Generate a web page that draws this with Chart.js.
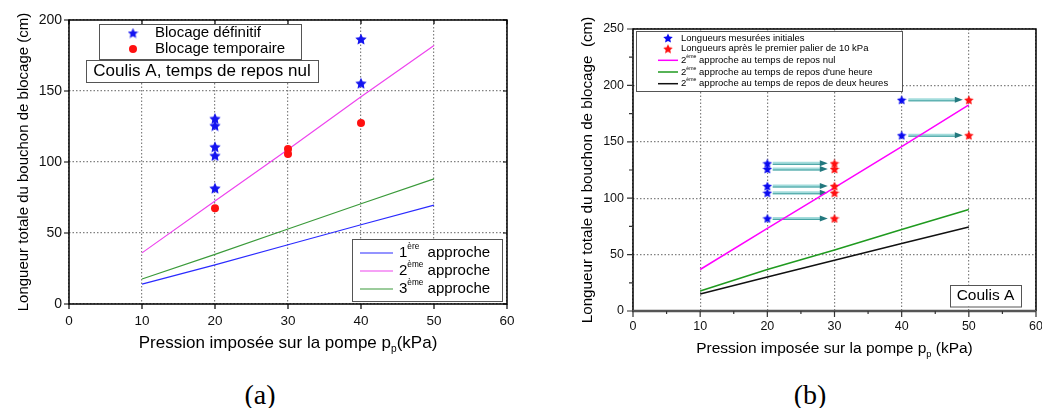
<!DOCTYPE html>
<html>
<head>
<meta charset="utf-8">
<script src="https://cdn.jsdelivr.net/npm/chart.js@4.4.1/dist/chart.umd.min.js"></script>
<style>
    html, body { margin: 0; padding: 0; background: #fff; }
    body { width: 1042px; height: 408px; position: relative; overflow: hidden; }
    #chartA { position: absolute; left: 0; top: 0; }
    #chartB { position: absolute; left: 530px; top: 0; }
    .caption {
        position: absolute; top: 381px; width: 80px; text-align: center;
        font-family: 'Liberation Serif', 'DejaVu Serif', serif; font-size: 28px; line-height: 28px; color: #000;
    }
</style>
</head>
<body>
<canvas id="chartA" width="530" height="360"></canvas>
<canvas id="chartB" width="512" height="360"></canvas>
<div class="caption" style="left:220px">(a)</div>
<div class="caption" style="left:770px">(b)</div>
<script>
const FONT = "'Liberation Sans', Arial, sans-serif";

// ---- (a) Coulis A, temps de repos nul ----
const pressionA = [10, 20, 30, 40, 50];
const approche1A = [14, 27.5, 41.7, 55.8, 69.6];
const approche2A = [36, 72.5, 108.8, 146, 182];
const approche3A = [17.6, 34.9, 52.8, 70.6, 88.1];
const definitifX = [20, 20, 20, 20, 20, 40, 40];
const definitifY = [130.6, 125.7, 110.7, 104.6, 81.6, 186.6, 155.5];
const temporaireX = [20, 30, 30, 40];
const temporaireY = [67.5, 109.1, 105.7, 127.5];
const ticksXA = [0, 10, 20, 30, 40, 50, 60];
const ticksYA = [0, 50, 100, 150, 200];

// ---- (b) Coulis A ----
const pressionB = [10, 20, 30, 40, 50];
const reposNul = [36.8, 73.2, 109.3, 145.7, 182.7];
const reposUneHeure = [17.8, 36.8, 54, 72.3, 90];
const reposDeuxHeures = [15.1, 30.2, 45, 59.9, 74.4];
const initialesX = [20, 20, 20, 20, 20, 40, 40];
const initialesY = [130.9, 125.9, 110.8, 104.8, 82.1, 187.2, 155.8];
const apresPalierX = [30, 30, 30, 30, 30, 50, 50];
const apresPalierY = [130.9, 125.9, 110.8, 104.8, 82.1, 187.2, 155.8];
const flecheDebutX = [20.8, 20.8, 20.8, 20.8, 20.8, 41, 41];
const flecheFinX = [29, 29, 29, 29, 29, 49.1, 49.1];
const ticksXB = [0, 10, 20, 30, 40, 50, 60];
const ticksYB = [0, 50, 100, 150, 200, 250];
const minorXB = [5, 15, 25, 35, 45, 55];
const minorYB = [25, 75, 125, 175, 225];

const pts = (xs, ys) => xs.map((x, i) => ({ x: x, y: ys[i] }));

function starImage(size, color) {
    const c = document.createElement('canvas');
    c.width = c.height = size;
    const g = c.getContext('2d');
    const R = size / 2, r = R * 0.48, cx = size / 2, cy = size / 2 + R * 0.1;
    g.beginPath();
    for (let i = 0; i < 10; i++) {
        const rad = i % 2 ? r : R;
        const a = -Math.PI / 2 + i * Math.PI / 5;
        g.lineTo(cx + rad * Math.cos(a), cy + rad * Math.sin(a));
    }
    g.closePath();
    g.fillStyle = color;
    g.fill();
    return c;
}

function drawXTitle(chart, size, gap, dy) {
    const ctx = chart.ctx, ca = chart.chartArea;
    const main = 'Pression imposée sur la pompe p';
    const tail = gap + '(kPa)';
    const sub = size * 0.6;
    ctx.save();
    ctx.fillStyle = '#000';
    ctx.textBaseline = 'middle';
    ctx.textAlign = 'left';
    ctx.font = size + 'px ' + FONT;
    const w1 = ctx.measureText(main).width, w3 = ctx.measureText(tail).width;
    ctx.font = sub + 'px ' + FONT;
    const w2 = ctx.measureText('p').width;
    const x = (ca.left + ca.right) / 2 - (w1 + w2 + w3) / 2;
    const y = ca.bottom + dy;
    ctx.font = size + 'px ' + FONT;
    ctx.fillText(main, x, y);
    ctx.font = sub + 'px ' + FONT;
    ctx.fillText('p', x + w1, y + size * 0.35);
    ctx.font = size + 'px ' + FONT;
    ctx.fillText(tail, x + w1 + w2, y);
    ctx.restore();
}

// text like "2ème approche ..." with a superscript
function drawSup(ctx, x, y, size, base, sup, rest) {
    ctx.font = size + 'px ' + FONT;
    ctx.fillText(base, x, y);
    let w = ctx.measureText(base).width;
    ctx.font = (size * 0.55) + 'px ' + FONT;
    ctx.fillText(sup, x + w, y - size * 0.4);
    w += ctx.measureText(sup).width;
    ctx.font = size + 'px ' + FONT;
    ctx.fillText(rest, x + w, y);
}

function box(ctx, x, y, w, h, color) {
    ctx.fillStyle = '#fff';
    ctx.fillRect(x, y, w, h);
    ctx.strokeStyle = color;
    ctx.lineWidth = 1;
    ctx.strokeRect(x + 0.5, y + 0.5, w, h);
}

function axisX(ticks, fontSize, pad, paddingX) {
    return {
        type: 'linear', min: 0, max: 60,
        afterBuildTicks: s => { s.ticks = ticks.map(v => ({ value: v })); },
        afterFit: s => { s.height = paddingX; s.paddingLeft = 0; s.paddingRight = 0; },
        ticks: { color: '#111', padding: pad, font: { family: FONT, size: fontSize } },
        grid: { color: '#808080', lineWidth: 1.2, drawTicks: false },
        border: { display: false, dash: [1.5, 2] }
    };
}

function axisY(ticks, max, fontSize, pad, width, titleSize, titlePad, text) {
    return {
        type: 'linear', min: 0, max: max,
        afterBuildTicks: s => { s.ticks = ticks.map(v => ({ value: v })); },
        afterFit: s => { s.width = width; s.paddingTop = 0; s.paddingBottom = 0; },
        ticks: { color: '#111', padding: pad, font: { family: FONT, size: fontSize } },
        grid: { color: '#808080', lineWidth: 1.2, drawTicks: false },
        border: { display: false, dash: [1.5, 2] },
        title: {
            display: true, text: text, color: '#000',
            font: { family: FONT, size: titleSize }, padding: { top: titlePad, bottom: 0 }
        }
    };
}

// ---------- chart (a) ----------
const starA = starImage(12, '#1414f0');
const starLegA = starImage(11, '#1414f0');

const plugA = {
    id: 'decorA',
    afterDraw(chart) {
        const ctx = chart.ctx, ca = chart.chartArea;
        const xs = chart.scales.x, ys = chart.scales.y;
        ctx.save();
        // frame and ticks
        ctx.strokeStyle = '#000';
        ctx.lineWidth = 1.5;
        ctx.strokeRect(ca.left, ca.top, ca.right - ca.left, ca.bottom - ca.top);
        ctx.lineWidth = 1.2;
        ctx.beginPath();
        ticksXA.forEach(v => {
            const px = xs.getPixelForValue(v);
            ctx.moveTo(px, ca.bottom); ctx.lineTo(px, ca.bottom + 5);
            ctx.moveTo(px, ca.top); ctx.lineTo(px, ca.top + 4);
        });
        ticksYA.forEach(v => {
            const py = ys.getPixelForValue(v);
            ctx.moveTo(ca.left - 5, py); ctx.lineTo(ca.left, py);
            ctx.moveTo(ca.right, py); ctx.lineTo(ca.right - 4, py);
        });
        ctx.stroke();

        // top legend
        ctx.textBaseline = 'middle';
        ctx.textAlign = 'left';
        box(ctx, ca.left + 30, ca.top + 4, 202, 35, '#555');
        ctx.drawImage(starLegA, ca.left + 64 - 5.5, ca.top + 13 - 5.5);
        ctx.fillStyle = '#ff1010';
        ctx.beginPath();
        ctx.arc(ca.left + 64, ca.top + 29, 4, 0, Math.PI * 2);
        ctx.fill();
        ctx.fillStyle = '#000';
        ctx.font = '15px ' + FONT;
        ctx.fillText('Blocage définitif', ca.left + 86, ca.top + 13);
        ctx.fillText('Blocage temporaire', ca.left + 86, ca.top + 29);

        // annotation
        box(ctx, ca.left + 17, ca.top + 40, 232, 22, '#555');
        ctx.fillStyle = '#000';
        ctx.font = '17px ' + FONT;
        ctx.textAlign = 'center';
        ctx.fillText('Coulis A, temps de repos nul', ca.left + 133, ca.top + 51.5);

        // lower legend
        ctx.textAlign = 'left';
        const lx = ca.right - 155, ly = ca.bottom - 65;
        box(ctx, lx, ly, 150, 62, '#555');
        const rows = [
            { c: '#2a2aff', n: '1', s: 'ère', t: '  approche' },
            { c: '#ee44ee', n: '2', s: 'ème', t: ' approche' },
            { c: '#3a9a3a', n: '3', s: 'ème', t: ' approche' }
        ];
        rows.forEach((r, i) => {
            const y = ly + 14 + i * 18;
            ctx.strokeStyle = r.c;
            ctx.lineWidth = 1.2;
            ctx.beginPath();
            ctx.moveTo(lx + 8, y); ctx.lineTo(lx + 41, y);
            ctx.stroke();
            ctx.fillStyle = '#000';
            drawSup(ctx, lx + 47, y, 15, r.n, r.s, r.t);
        });
        ctx.restore();
        drawXTitle(chart, 17, '', 39);
    }
};

new Chart(document.getElementById('chartA'), {
    type: 'scatter',
    data: {
        datasets: [
            { label: 'Blocage définitif', data: pts(definitifX, definitifY), pointStyle: starA, pointRadius: 5, showLine: false },
            { label: 'Blocage temporaire', data: pts(temporaireX, temporaireY), pointStyle: 'circle', pointRadius: 4,
              backgroundColor: '#ff1010', borderColor: '#ff1010', borderWidth: 0, showLine: false },
            { label: '1ère approche', data: pts(pressionA, approche1A), showLine: true, borderColor: '#2a2aff', borderWidth: 1.2, pointRadius: 0 },
            { label: '2ème approche', data: pts(pressionA, approche2A), showLine: true, borderColor: '#ee44ee', borderWidth: 1.2, pointRadius: 0 },
            { label: '3ème approche', data: pts(pressionA, approche3A), showLine: true, borderColor: '#3a9a3a', borderWidth: 1.2, pointRadius: 0 }
        ]
    },
    options: {
        responsive: false,
        animation: false,
        layout: { padding: { top: 20, right: 23, left: 0, bottom: 0 } },
        plugins: { legend: { display: false }, tooltip: { enabled: false } },
        scales: {
            x: axisX(ticksXA, 13.5, 9, 56),
            y: axisY(ticksYA, 200, 14, 7, 69, 15, 15, 'Longueur totale du bouchon de blocage (cm)')
        }
    },
    plugins: [plugA]
});

// ---------- chart (b) ----------
const starBlue = starImage(10, '#0a0af0');
const starRed = starImage(10, '#ff1010');

const plugB = {
    id: 'decorB',
    beforeDatasetsDraw(chart) {
        // arrows from initial to post-step lengths
        const ctx = chart.ctx;
        const xs = chart.scales.x, ys = chart.scales.y;
        ctx.save();
        initialesY.forEach((v, i) => {
            const x1 = xs.getPixelForValue(flecheDebutX[i]);
            const x2 = xs.getPixelForValue(flecheFinX[i]);
            const y = ys.getPixelForValue(v);
            ctx.strokeStyle = '#a3dcdc';
            ctx.lineWidth = 3;
            ctx.beginPath();
            ctx.moveTo(x1, y); ctx.lineTo(x2 - 6, y);
            ctx.stroke();
            ctx.strokeStyle = '#3f9e9e';
            ctx.lineWidth = 1;
            ctx.beginPath();
            ctx.moveTo(x1, y + 1); ctx.lineTo(x2 - 6, y + 1);
            ctx.stroke();
            ctx.fillStyle = '#23787e';
            ctx.beginPath();
            ctx.moveTo(x2 - 8, y - 3); ctx.lineTo(x2, y); ctx.lineTo(x2 - 8, y + 3);
            ctx.closePath();
            ctx.fill();
        });
        ctx.restore();
    },
    afterDraw(chart) {
        const ctx = chart.ctx, ca = chart.chartArea;
        const xs = chart.scales.x, ys = chart.scales.y;
        ctx.save();
        // frame
        ctx.strokeStyle = '#000';
        ctx.lineWidth = 1.5;
        ctx.beginPath();
        ctx.moveTo(ca.left, ca.bottom); ctx.lineTo(ca.left, ca.top);
        ctx.lineTo(ca.right, ca.top); ctx.lineTo(ca.right, ca.bottom);
        ctx.stroke();
        ctx.strokeStyle = '#555';
        ctx.lineWidth = 2.5;
        ctx.beginPath();
        ctx.moveTo(ca.left - 1, ca.bottom); ctx.lineTo(ca.right, ca.bottom);
        ctx.stroke();
        ctx.strokeStyle = '#333';
        ctx.lineWidth = 1.2;
        ctx.beginPath();
        ticksXB.forEach(v => {
            const px = xs.getPixelForValue(v);
            ctx.moveTo(px, ca.bottom); ctx.lineTo(px, ca.bottom + 6);
        });
        minorXB.forEach(v => {
            const px = xs.getPixelForValue(v);
            ctx.moveTo(px, ca.bottom); ctx.lineTo(px, ca.bottom + 3);
        });
        ticksYB.forEach(v => {
            const py = ys.getPixelForValue(v);
            ctx.moveTo(ca.left - 6, py); ctx.lineTo(ca.left, py);
        });
        minorYB.forEach(v => {
            const py = ys.getPixelForValue(v);
            ctx.moveTo(ca.left - 4, py); ctx.lineTo(ca.left, py);
        });
        ctx.stroke();

        // legend
        ctx.textBaseline = 'middle';
        ctx.textAlign = 'left';
        box(ctx, ca.left + 3, ca.top + 2, 266, 60, '#555');
        const mx = ca.left + 35, tx = ca.left + 48;
        const rowY = [9, 19.7, 31.3, 43, 54.7].map(d => ca.top + d);
        ctx.drawImage(starBlue, mx - 5, rowY[0] - 5);
        ctx.drawImage(starRed, mx - 5, rowY[1] - 5);
        ctx.fillStyle = '#000';
        ctx.font = '9.5px ' + FONT;
        ctx.fillText('Longueurs mesurées initiales', tx, rowY[0]);
        ctx.fillText('Longueurs après le premier palier de 10 kPa', tx, rowY[1]);
        const lines = [
            { c: '#ff00ff', t: ' approche au temps de repos nul' },
            { c: '#1f9a1f', t: ' approche au temps de repos d\'une heure' },
            { c: '#111111', t: ' approche au temps de repos de deux heures' }
        ];
        lines.forEach((l, i) => {
            const y = rowY[i + 2];
            ctx.strokeStyle = l.c;
            ctx.lineWidth = 1.5;
            ctx.beginPath();
            ctx.moveTo(mx - 10, y); ctx.lineTo(mx + 10, y);
            ctx.stroke();
            ctx.fillStyle = '#000';
            drawSup(ctx, tx, y, 9.5, '2', 'ème', l.t);
        });

        // Coulis A box
        box(ctx, ca.right - 86, ca.bottom - 26, 71, 21.5, '#555');
        ctx.fillStyle = '#000';
        ctx.font = '15.5px ' + FONT;
        ctx.textAlign = 'center';
        ctx.fillText('Coulis A', ca.right - 50.5, ca.bottom - 15);
        ctx.restore();
        drawXTitle(chart, 15.5, ' ', 38);
    }
};

new Chart(document.getElementById('chartB'), {
    type: 'scatter',
    data: {
        datasets: [
            { label: 'Longueurs mesurées initiales', data: pts(initialesX, initialesY), pointStyle: starBlue, pointRadius: 5, showLine: false },
            { label: 'Longueurs après le premier palier de 10 kPa', data: pts(apresPalierX, apresPalierY), pointStyle: starRed, pointRadius: 5, showLine: false },
            { label: '2ème approche au temps de repos nul', data: pts(pressionB, reposNul), showLine: true, borderColor: '#ff00ff', borderWidth: 1.5, pointRadius: 0 },
            { label: '2ème approche au temps de repos d\'une heure', data: pts(pressionB, reposUneHeure), showLine: true, borderColor: '#1f9a1f', borderWidth: 1.5, pointRadius: 0 },
            { label: '2ème approche au temps de repos de deux heures', data: pts(pressionB, reposDeuxHeures), showLine: true, borderColor: '#111111', borderWidth: 1.5, pointRadius: 0 }
        ]
    },
    options: {
        responsive: false,
        animation: false,
        layout: { padding: { top: 29, right: 5, left: 0, bottom: 0 } },
        plugins: { legend: { display: false }, tooltip: { enabled: false } },
        scales: {
            x: axisX(ticksXB, 12.5, 8, 49),
            y: axisY(ticksYB, 250, 12.5, 9, 103, 15.2, 49, 'Longueur totale du bouchon de blocage  (cm)')
        }
    },
    plugins: [plugB]
});
</script>
</body>
</html>
